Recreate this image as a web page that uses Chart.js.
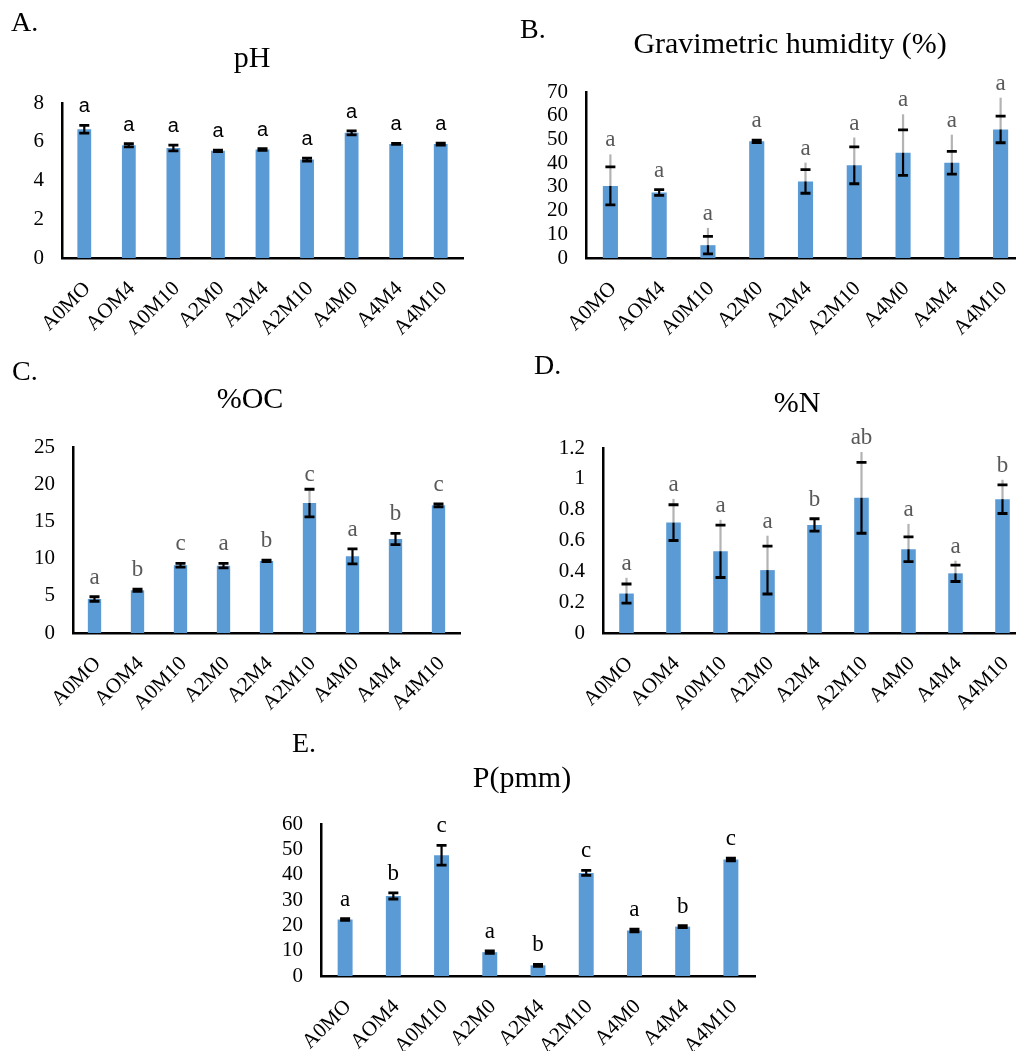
<!DOCTYPE html>
<html>
<head>
<meta charset="utf-8">
<title>Soil parameters</title>
<script src="https://cdn.jsdelivr.net/npm/chart.js@4.4.1/dist/chart.umd.min.js"></script>
<style>
  html, body { margin: 0; padding: 0; background: #fff; }
  #page { position: relative; width: 1016px; height: 1051px; overflow: hidden; background: #fff; }
  canvas { position: absolute; }
  .lbl { position: absolute; font-family: "Liberation Serif", "Times New Roman", serif; color: #000; white-space: nowrap; line-height: 1; }
  .title { transform: translate(-50%, -50%); font-size: 30px; }
  .tag { transform: translateY(-50%); font-size: 28px; }
</style>
</head>
<body>
<div id="page">
  <canvas id="chartA" width="500" height="350" style="left:0px;top:0px"></canvas>
  <canvas id="chartB" width="540" height="350" style="left:500px;top:0px"></canvas>
  <canvas id="chartC" width="500" height="370" style="left:0px;top:350px"></canvas>
  <canvas id="chartD" width="540" height="370" style="left:500px;top:350px"></canvas>
  <canvas id="chartE" width="520" height="321" style="left:250px;top:730px"></canvas>

  <div class="lbl tag" style="left:11px;top:22px">A.</div>
  <div class="lbl title" style="left:252px;top:57px">pH</div>
  <div class="lbl tag" style="left:520px;top:29px">B.</div>
  <div class="lbl title" style="left:790px;top:43px">Gravimetric humidity (%)</div>
  <div class="lbl tag" style="left:12px;top:371px">C.</div>
  <div class="lbl title" style="left:250px;top:398px">%OC</div>
  <div class="lbl tag" style="left:534px;top:365px">D.</div>
  <div class="lbl title" style="left:797px;top:402px">%N</div>
  <div class="lbl tag" style="left:292px;top:743px">E.</div>
  <div class="lbl title" style="left:522px;top:777px">P(pmm)</div>
</div>

<script>
// Treatments (same for every panel)
const categories = ['A0MO', 'AOM4', 'A0M10', 'A2M0', 'A2M4', 'A2M10', 'A4M0', 'A4M4', 'A4M10'];

// A. pH
const phValues = [6.65, 5.82, 5.68, 5.53, 5.60, 5.08, 6.46, 5.89, 5.88];
const phErr = [0.20, 0.08, 0.15, 0.04, 0.05, 0.08, 0.10, 0.03, 0.05];
const phLetters = ['a', 'a', 'a', 'a', 'a', 'a', 'a', 'a', 'a'];

// B. Gravimetric humidity (%)
const humValues = [30.4, 27.6, 5.4, 49.2, 32.3, 39.1, 44.4, 40.2, 54.2];
const humErr = [8.0, 1.2, 3.7, 0.5, 5.0, 7.8, 9.6, 4.8, 5.6];
const humGrey = [13.3, 0, 7.3, 0, 7.9, 11.7, 16.2, 11.8, 13.4];
const humLetters = ['a', 'a', 'a', 'a', 'a', 'a', 'a', 'a', 'a'];

// C. %OC
const ocValues = [4.57, 5.74, 9.10, 9.05, 9.68, 17.47, 10.30, 12.63, 17.16];
const ocErr = [0.30, 0.15, 0.25, 0.30, 0.10, 1.85, 1.00, 0.75, 0.20];
const ocGrey = [0, 0, 0, 0, 0, 1.85, 0, 0, 0];
const ocLetters = ['a', 'b', 'c', 'a', 'b', 'c', 'a', 'b', 'c'];

// D. %N
const nValues = [0.256, 0.716, 0.530, 0.408, 0.701, 0.877, 0.543, 0.387, 0.868];
const nErr = [0.062, 0.116, 0.170, 0.155, 0.040, 0.230, 0.080, 0.053, 0.093];
const nGrey = [0.102, 0.154, 0.204, 0.223, 0, 0.297, 0.165, 0.082, 0.126];
const nLetters = ['a', 'a', 'a', 'a', 'b', 'ab', 'a', 'a', 'b'];

// E. P(pmm)
const pValues = [22.3, 31.6, 47.7, 9.4, 4.2, 40.7, 17.95, 19.5, 46.0];
const pErr = [0.3, 1.2, 3.9, 0.5, 0.4, 1.0, 0.5, 0.4, 0.5];
const pLetters = ['a', 'b', 'c', 'a', 'b', 'c', 'a', 'b', 'c'];

// Y axis ranges
const phTicks = { max: 8, step: 2 };
const humTicks = { max: 70, step: 10 };
const ocTicks = { max: 25, step: 5 };
const nTicks = { max: 1.2, step: 0.2 };
const pTicks = { max: 60, step: 10 };

const SERIF = '"Liberation Serif", "Times New Roman", serif';
const SANS = '"Liberation Sans", Arial, sans-serif';
const BAR_BLUE = '#5b9bd5';

document.addEventListener('DOMContentLoaded', function() {
    // canvas box and plot area are in page pixels
    makePanel('chartA', { x: 0, y: 0, w: 500, h: 350 }, { l: 62, t: 103, r: 463, b: 258 },
        phValues, phTicks, phErr, null, phLetters, { font: '20px ' + SANS, color: '#000' });
    makePanel('chartB', { x: 500, y: 0, w: 540, h: 350 }, { l: 586, t: 92, r: 1025, b: 258 },
        humValues, humTicks, humErr, humGrey, humLetters, { font: '23px ' + SERIF, color: '#595959' });
    makePanel('chartC', { x: 0, y: 350, w: 500, h: 370 }, { l: 73, t: 447, r: 460, b: 633 },
        ocValues, ocTicks, ocErr, ocGrey, ocLetters, { font: '23px ' + SERIF, color: '#595959' });
    makePanel('chartD', { x: 500, y: 350, w: 540, h: 370 }, { l: 603, t: 448, r: 1026, b: 633 },
        nValues, nTicks, nErr, nGrey, nLetters, { font: '23px ' + SERIF, color: '#595959' });
    makePanel('chartE', { x: 250, y: 730, w: 520, h: 321 }, { l: 321, t: 824, r: 755, b: 976 },
        pValues, pTicks, pErr, null, pLetters, { font: '23px ' + SERIF, color: '#000' });
});

// error bars + significance letters, drawn over the bars
function errorBars(err, grey, letters, letterStyle) {
    return {
        id: 'errorBars',
        afterDatasetsDraw(chart) {
            const ctx = chart.ctx;
            const y = chart.scales.y;
            const values = chart.data.datasets[0].data;
            const meta = chart.getDatasetMeta(0);
            ctx.save();
            meta.data.forEach(function(bar, i) {
                const v = values[i];
                const e = err[i];
                const g = grey ? grey[i] : 0;
                const x = bar.x;
                const yv = y.getPixelForValue(v);
                const ylo = y.getPixelForValue(v - e);
                const yhi = y.getPixelForValue(v + e);

                ctx.lineCap = 'butt';
                ctx.lineWidth = 2.2;
                if (g > 0) {
                    // light grey upper whisker
                    ctx.strokeStyle = '#b3b3b3';
                    ctx.beginPath();
                    ctx.moveTo(x, yv);
                    ctx.lineTo(x, y.getPixelForValue(v + g));
                    ctx.stroke();
                    ctx.strokeStyle = '#000';
                    ctx.beginPath();
                    ctx.moveTo(x, ylo);
                    ctx.lineTo(x, yv);
                    ctx.stroke();
                } else {
                    ctx.strokeStyle = '#000';
                    ctx.beginPath();
                    ctx.moveTo(x, ylo);
                    ctx.lineTo(x, yhi);
                    ctx.stroke();
                }
                // caps
                ctx.strokeStyle = '#000';
                ctx.lineWidth = 2.8;
                ctx.beginPath();
                ctx.moveTo(x - 5, ylo);
                ctx.lineTo(x + 5, ylo);
                ctx.moveTo(x - 5, yhi);
                ctx.lineTo(x + 5, yhi);
                ctx.stroke();

                // letter
                const top = y.getPixelForValue(v + Math.max(e, g));
                ctx.font = letterStyle.font;
                ctx.fillStyle = letterStyle.color;
                ctx.textAlign = 'center';
                ctx.textBaseline = 'alphabetic';
                ctx.fillText(letters[i], x, top - (g > 0 ? 8 : 13));
            });
            ctx.restore();
        }
    };
}

// category labels at 45 degrees, end of text just under each bar
const slantedLabels = {
    id: 'slantedLabels',
    afterDraw(chart) {
        const ctx = chart.ctx;
        const xs = chart.scales.x;
        ctx.save();
        ctx.font = '21px ' + SERIF;
        ctx.fillStyle = '#000';
        ctx.textAlign = 'right';
        ctx.textBaseline = 'alphabetic';
        chart.data.labels.forEach(function(label, i) {
            ctx.save();
            ctx.translate(xs.getPixelForValue(i) + 2, xs.top + 26.5);
            ctx.rotate(-Math.PI / 4);
            ctx.fillText(label, 0, 7);
            ctx.restore();
        });
        ctx.restore();
    }
};

function makePanel(id, box, plot, values, range, err, grey, letters, letterStyle) {
    const ctx = document.getElementById(id).getContext('2d');
    new Chart(ctx, {
        type: 'bar',
        data: {
            labels: categories,
            datasets: [{
                data: values,
                backgroundColor: BAR_BLUE,
                borderWidth: 0,
                barPercentage: 0.31,
                categoryPercentage: 1
            }]
        },
        options: {
            responsive: false,
            animation: false,
            layout: {
                padding: {
                    top: plot.t - box.y,
                    right: box.x + box.w - plot.r,
                    left: 0,
                    bottom: 0
                }
            },
            plugins: {
                legend: { display: false },
                tooltip: { enabled: false }
            },
            scales: {
                x: {
                    grid: { display: false, drawTicks: false },
                    border: { display: true, color: '#000', width: 2.5 },
                    ticks: { display: false },
                    afterFit: function(scale) {
                        scale.height = box.y + box.h - plot.b;
                    }
                },
                y: {
                    min: 0,
                    max: range.max,
                    grid: { display: false, drawTicks: false },
                    border: { display: true, color: '#000', width: 2.5 },
                    ticks: {
                        stepSize: range.step,
                        autoSkip: false,
                        color: '#000',
                        font: { family: SERIF, size: 21 },
                        padding: 18,
                        callback: function(v) {
                            return String(Math.round(v * 10) / 10);
                        }
                    },
                    afterFit: function(scale) {
                        scale.width = plot.l - box.x;
                    }
                }
            }
        },
        plugins: [errorBars(err, grey, letters, letterStyle), slantedLabels]
    });
}
</script>
</body>
</html>
